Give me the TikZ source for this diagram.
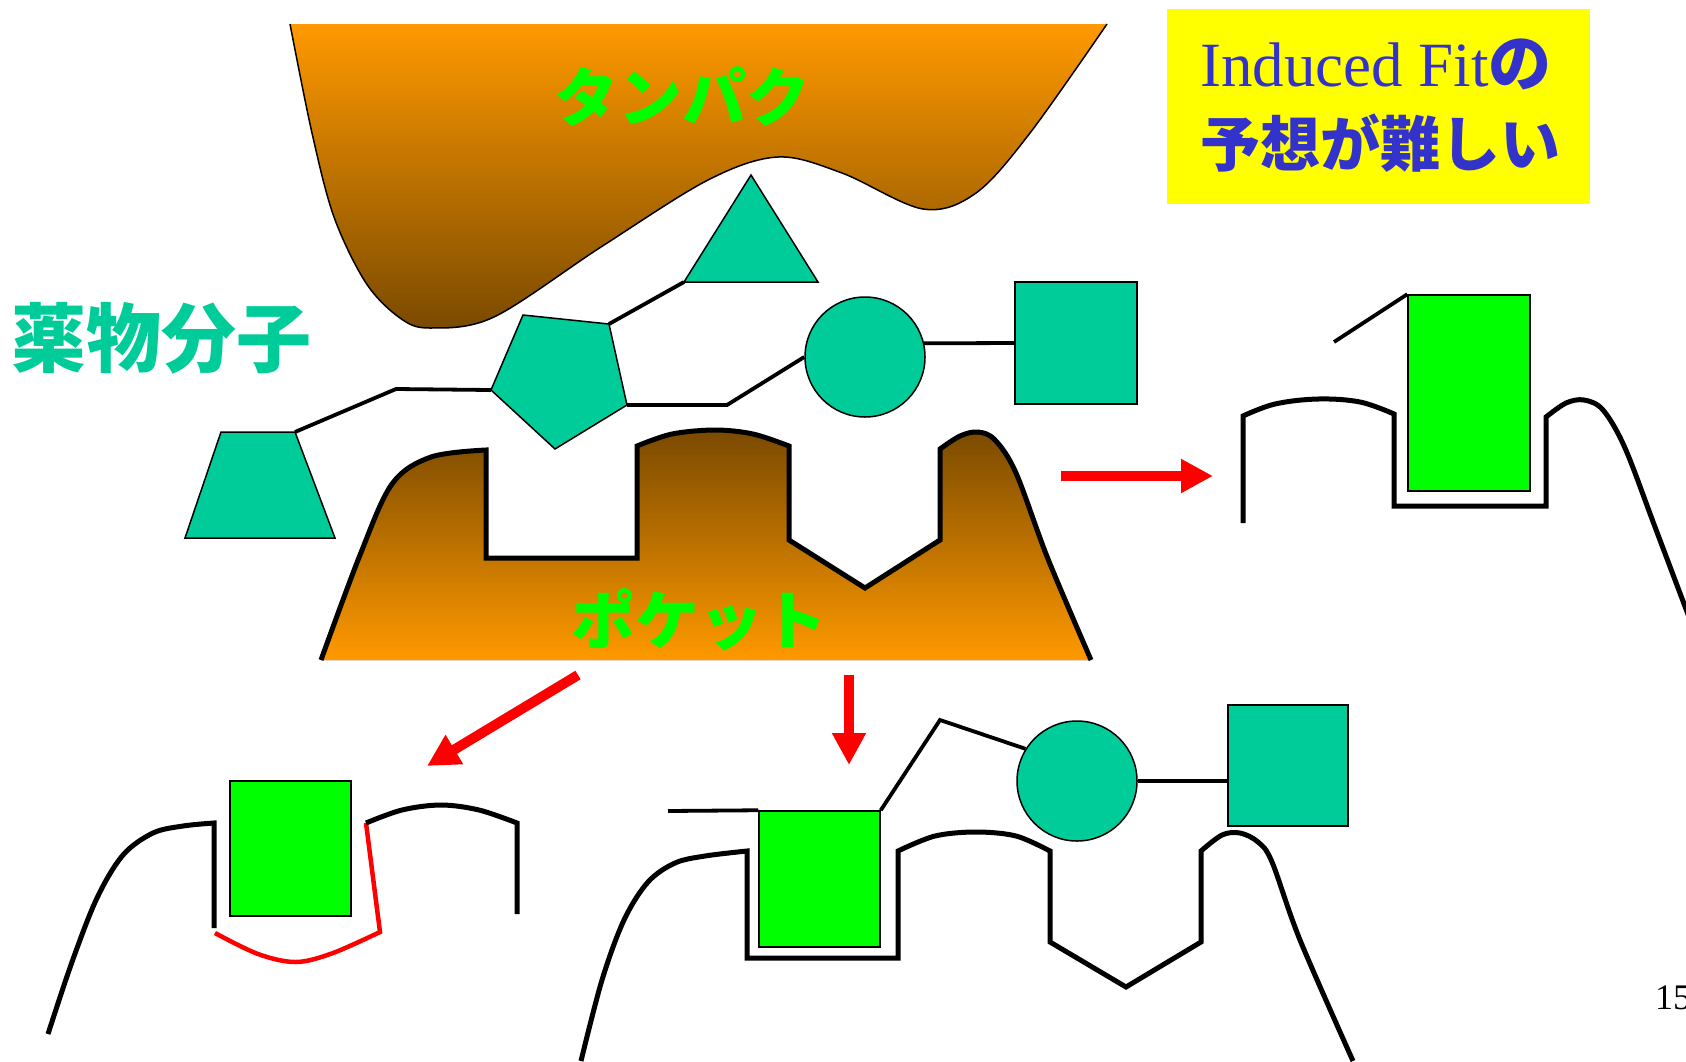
\documentclass[tikz,border=0pt]{standalone}
\usepackage{fontspec}
\setmainfont{Liberation Serif}
\newfontfamily\jpfont{Noto Sans CJK JP}
\usetikzlibrary{arrows.meta}

\definecolor{drugteal}{HTML}{00CC99}
\definecolor{ligandgreen}{HTML}{00FF00}
\definecolor{protorange}{HTML}{FF9900}
\definecolor{protbrown}{HTML}{7A4A00}
\definecolor{noteyellow}{HTML}{FFFF00}
\definecolor{noteblue}{HTML}{3333CC}
\definecolor{arrowred}{HTML}{FF0000}

% outlines of the protein surface and of the binding pocket
\newcommand\proteinpath{plot[smooth,tension=0.55] coordinates {(290,24) (312,133) (334,217) (366,283) (400,318) (430,328) (494,317) (601,247) (708,180) (778,157) (842,173) (923,209) (976,193) (1030,133) (1107,24)}}
\newcommand\pocketpath{plot[smooth,tension=0.55] coordinates {(321,660) (360,555) (392,484) (431,457) (486,450)}
  -- (486,558) -- (637,558) -- (637,446)
  -- plot[smooth,tension=0.55] coordinates {(637,446) (672,434) (715,430) (753,434) (789,446)}
  -- (789,540) -- (865,588) -- (940,540) -- (940,449)
  -- plot[smooth,tension=0.55] coordinates {(940,449) (960,436) (978,432) (995,440) (1016,473) (1048,559) (1091,660)}}

\begin{document}
\begin{tikzpicture}[x=1pt,y=-1pt,
  drugpart/.style={fill=drugteal,draw=black,line width=1.5pt},
  ligandbox/.style={fill=ligandgreen,draw=black,line width=1.5pt,inner sep=0pt},
  bond/.style={line width=3.8pt,line join=miter},
  wall/.style={line width=5pt,line join=miter},
  shifted/.style={draw=arrowred,line width=4.5pt,line join=miter},
  redarrow/.style={draw=arrowred,line width=10pt,-{Triangle[length=32pt,width=32pt]}},
  jlabel/.style={inner sep=0pt,font=\jpfont\bfseries\fontsize{#1}{#1}\selectfont}]
\useasboundingbox (0,0) rectangle (1686,1061);

% ---------------- protein (upper surface) ----------------
\fill[top color=protorange,bottom color=protbrown] \proteinpath -- cycle;
\draw[line width=1.5pt] \proteinpath;
\node[jlabel=64,text=ligandgreen] (proteinLabel) at (682,97) {タンパク};

% ---------------- pocket (lower surface) ----------------
\fill[top color=protbrown,bottom color=protorange] \pocketpath -- cycle;
\draw[wall] \pocketpath;
\node[jlabel=64,text=ligandgreen] (pocketLabel) at (699,620) {ポケット};

% ---------------- drug molecule ----------------
\node[jlabel=75,text=drugteal] (drugLabel) at (162,338) {薬物分子};

\coordinate (Z1) at (221,432); \coordinate (Z2) at (295,432);
\coordinate (Z3) at (335,538); \coordinate (Z4) at (185,538);
\coordinate (P1) at (523,315); \coordinate (P2) at (609,324);
\coordinate (P3) at (627,405); \coordinate (P4) at (555,449);
\coordinate (P5) at (491,390);
\coordinate (T1) at (684,282); \coordinate (T2) at (818,282);
\coordinate (T3) at (751,175);
\coordinate (bendA) at (396,389);
\coordinate (bendB) at (727,405);

\draw[bond] (Z2) -- (bendA) -- (P5);
\draw[bond] (P2) -- (T1);
\draw[drugpart] (Z1) -- (Z2) -- (Z3) -- (Z4) -- cycle;
\draw[drugpart] (P1) -- (P2) -- (P3) -- (P4) -- (P5) -- cycle;
\draw[drugpart] (T1) -- (T2) -- (T3) -- cycle;
\node[circle,drugpart,minimum size=120pt,inner sep=0pt] (ringA) at (865,357) {};
\node[rectangle,drugpart,minimum width=122pt,minimum height=122pt,inner sep=0pt] (boxA) at (1076,343) {};
\draw[bond] (P3) -- (bendB) -- (ringA.west);
\draw[bond] (ringA.13.5) -- (boxA.west);

% ---------------- note ----------------
\node[fill=noteyellow,minimum width=423pt,minimum height=195pt,inner sep=0pt] (note) at (1378.5,106.5) {};
\node[inner sep=0pt,text=noteblue,font=\fontsize{63}{63}\selectfont] (noteA) at (1376,64) {Induced Fit{\jpfont\bfseries の}};
\node[jlabel=60,text=noteblue] (noteB) at (1380,143) {予想が難しい};

% ---------------- arrows ----------------
\coordinate (rA1) at (1061,476); \coordinate (rA2) at (1213,476);
\coordinate (dA1) at (849,675); \coordinate (dA2) at (849,765);
\coordinate (lA1) at (578,675); \coordinate (lA2) at (427,766);
\draw[redarrow] (rA1) -- (rA2);
\draw[redarrow] (dA1) -- (dA2);
\draw[redarrow] (lA1) -- (lA2);

% ---------------- right: fitted pocket ----------------
\draw[wall] (1243,523) -- (1243,416)
  -- plot[smooth,tension=0.6] coordinates {(1243,416) (1275,404) (1318,399) (1360,402) (1394,414)}
  -- (1394,506) -- (1546,506) -- (1546,417)
  -- plot[smooth,tension=0.55] coordinates {(1546,417) (1566,403) (1584,400) (1603,410) (1625,448) (1655,527) (1692,625)};
\node[ligandbox,minimum width=122pt,minimum height=196pt] (ligC) at (1469,393) {};
\coordinate (tailC) at (1334,342);
\draw[bond] (tailC) -- (ligC.north west);

% ---------------- lower left: deformed pocket ----------------
\draw[wall] plot[smooth,tension=0.55] coordinates {(48,1034) (72,962) (97,898) (123,855) (153,833) (183,826) (214,823)} -- (214,928);
\draw[shifted] plot[smooth,tension=0.55] coordinates {(215,933) (258,954) (296,962) (333,953) (380,932)} -- (366,823);
\draw[wall] plot[smooth,tension=0.55] coordinates {(366,823) (402,810) (441,805) (479,810) (517,823)} -- (517,914);
\node[ligandbox,minimum width=121pt,minimum height=135pt] (ligD) at (290.5,848.5) {};

% ---------------- lower middle: ligand in pocket ----------------
\draw[wall] plot[smooth,tension=0.55] coordinates {(581,1061) (602,980) (624,920) (648,882) (675,863) (705,856) (747,851)}
  -- (747,958) -- (898,958) -- (898,851)
  -- plot[smooth,tension=0.55] coordinates {(898,851) (935,836) (976,832) (1016,836) (1050,851)}
  -- (1050,942) -- (1126,987) -- (1201,942) -- (1201,851)
  -- plot[smooth,tension=0.55] coordinates {(1201,851) (1222,835) (1240,833) (1258,842) (1272,862) (1300,940) (1353,1061)};
\node[ligandbox,minimum width=121pt,minimum height=136pt] (ligB) at (819.5,879) {};
\node[circle,drugpart,minimum size=120pt,inner sep=0pt] (ringB) at (1077,781) {};
\node[rectangle,drugpart,minimum width=120pt,minimum height=121pt,inner sep=0pt] (boxB) at (1288,765.5) {};
\coordinate (tailB) at (668,811);
\coordinate (bendC) at (940,720);
\draw[bond] (tailB) -- (ligB.north west);
\draw[bond] (ligB.north east) -- (bendC) -- (ringB.148);
\draw[bond] (ringB.east) -- (ringB.east -| boxB.west);

% ---------------- page number ----------------
\node[anchor=west,inner sep=0pt,font=\fontsize{36}{36}\selectfont] (pageNo) at (1655,998) {15};
\end{tikzpicture}
\end{document}
